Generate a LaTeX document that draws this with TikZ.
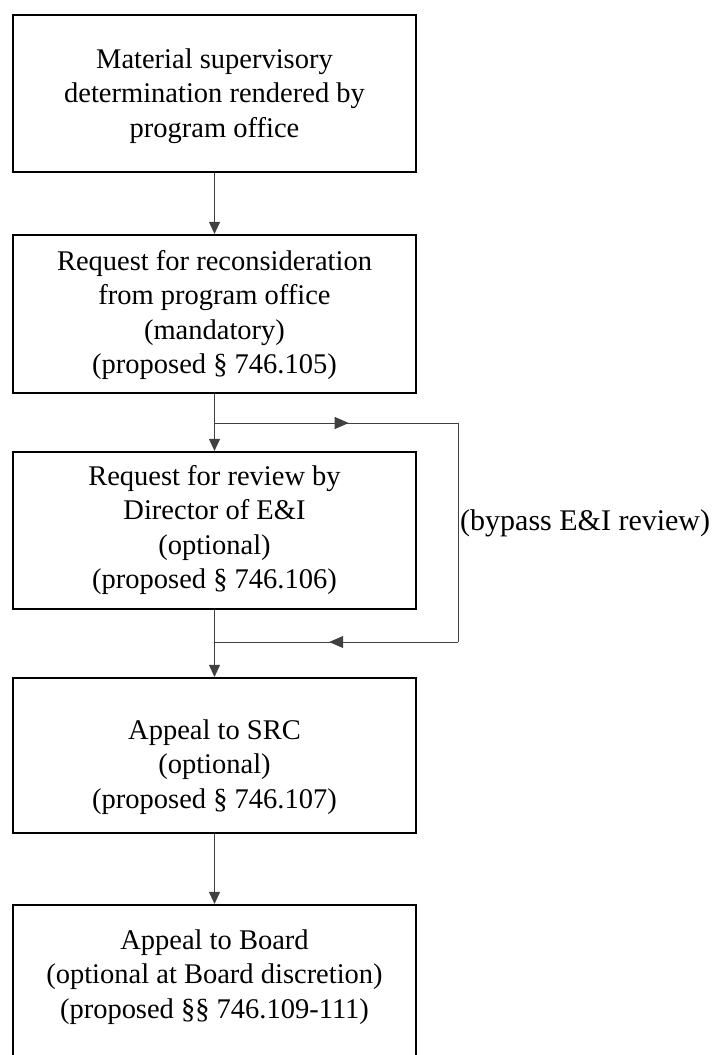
\documentclass[tikz,border=0pt]{standalone}
\usepackage{fontspec}
\setmainfont{Liberation Serif}
\usetikzlibrary{arrows.meta,decorations.markings}
\begin{document}
\begin{tikzpicture}[x=1pt,y=-1pt,
  box/.style={draw=black,line width=2.2pt,minimum width=403pt,inner sep=0pt,fill=none},
  txt/.style={align=center,font=\fontsize{28.5}{34.5}\selectfont,inner sep=0pt},
  conn/.style={draw=black!75,line width=1pt},
  tip/.style={-{Triangle[length=12pt,width=11pt]}},
  midright/.style={postaction={decorate},decoration={markings,mark=at position #1 with {\arrow{Triangle[length=14pt,width=12pt]}}}}
]
\useasboundingbox (0,0) rectangle (713,1055);
\begin{scope}
\clip (0,0) rectangle (713,1055);
\node[box,minimum height=157pt] (b1) at (214.5,93.5) {};
\node[box,minimum height=158pt] (b2) at (214.5,314) {};
\node[box,minimum height=157pt] (b3) at (214.5,530.5) {};
\node[box,minimum height=155pt] (b4) at (214.5,755.5) {};
\node[box,minimum height=160pt] (b5) at (214.5,985) {};
\end{scope}

\node[txt] (t1) at (214.5,96) {Material supervisory\\determination rendered by\\program office};
\node[txt] (t2) at (214.5,315) {Request for reconsideration\\from program office\\(mandatory)\\(proposed \S\ 746.105)};
\node[txt] (t3) at (214.5,530) {Request for review by\\Director of E\&I\\(optional)\\(proposed \S\ 746.106)};
\node[txt] (t4) at (214.5,767) {Appeal to SRC\\(optional)\\(proposed \S\ 746.107)};
\node[txt] (t5) at (214.5,977) {Appeal to Board\\(optional at Board discretion)\\(proposed \S\S\ 746.109-111)};
\node[txt,anchor=west,font=\fontsize{30}{36}\selectfont] (lbl) at (460,523) {(bypass E\&I review)};

\coordinate (s1) at (215,423);
\coordinate (r1) at (458,423);
\coordinate (r2) at (458,642);
\coordinate (s2) at (215,642);

\draw[conn,tip] (b1.south) -- (b2.north);
\draw[conn,tip] (b2.south) -- (b3.north);
\draw[conn,tip] (b3.south) -- (b4.north);
\draw[conn,tip] (b4.south) -- (b5.north);
\draw[conn,midright=0.55] (s1) -- (r1);
\draw[conn] (r1) -- (r2);
\draw[conn,midright=0.53] (r2) -- (s2);
\end{tikzpicture}
\end{document}
